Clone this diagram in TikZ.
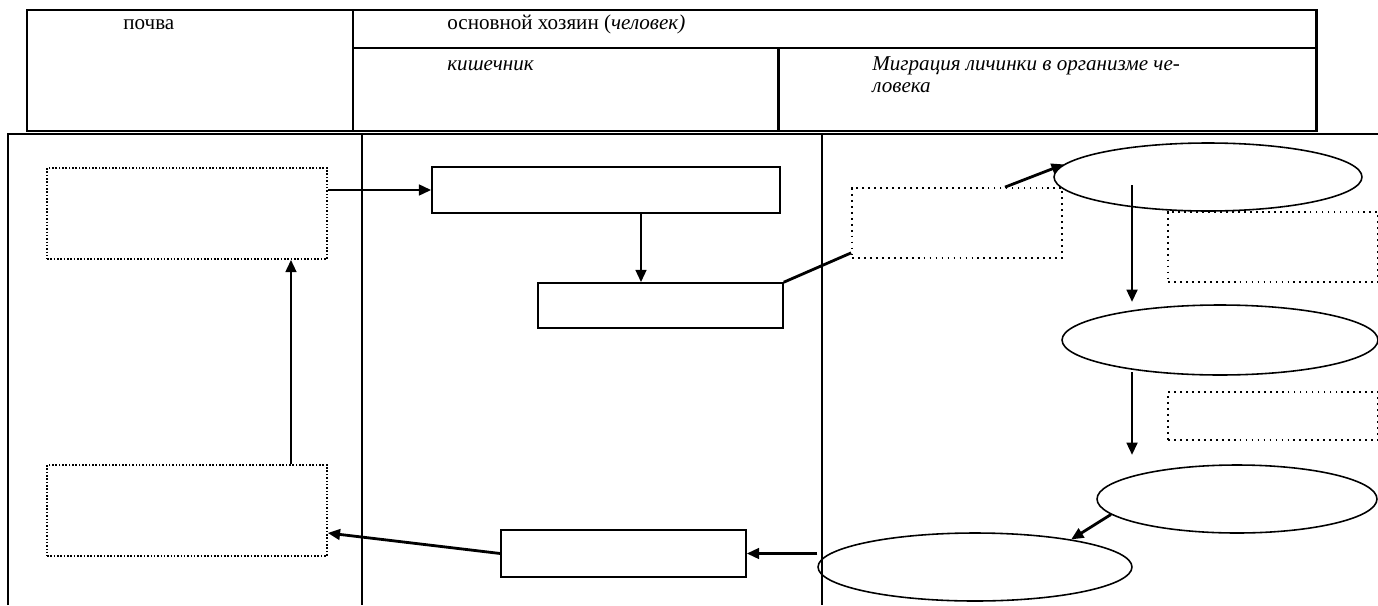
\documentclass[tikz,border=0pt]{standalone}
\usepackage{fontspec}
\setmainfont{Liberation Serif}
\usepackage{tikz}
\usetikzlibrary{arrows.meta, positioning, shapes.geometric, calc}

\begin{document}
\begin{tikzpicture}[
  x=0.02cm, y=-0.02cm,
  >={Triangle[length=7pt, width=6pt]},
  hdr/.style={line width=1.7pt},
  frame/.style={line width=0.6pt},
  lbl/.style={inner sep=0pt, anchor=base west, font=\fontsize{12}{12.5}\selectfont},
  solidbox/.style={draw, line width=0.9pt, inner sep=0pt},
  soilbox/.style={draw, line width=0.9pt, densely dotted, inner sep=0pt},
  dotbox/.style={draw, line width=1pt, dash pattern=on 1pt off 2.4pt, inner sep=0pt},
  stage/.style={draw, ellipse, line width=0.9pt, inner sep=0pt},
  arr/.style={->, line width=1.6pt},
  link/.style={line width=1.6pt},
]
\useasboundingbox (0,0) rectangle (1378,605);

% Header table
\draw[hdr] (27,10) rectangle (1316,131);
\draw[hdr] (353,10) -- (353,131);
\draw[hdr] (353,48) -- (1316,48);
\draw[hdr] (778,48) -- (778,131);
\node[lbl] (soil) at (123,30) {почва};
\node[lbl] (host) at (447,30) {основной хозяин (\textit{человек)}};
\node[lbl] (gut)  at (447,70) {\textit{кишечник}};
\node[lbl] (mig1) at (872,70) {\textit{Миграция личинки в организме че-}};
\node[lbl] (mig2) at (872,92) {\textit{ловека}};

% Lower frame
\draw[frame] (8,605) -- (8,134) -- (1378,134);
\draw[frame] (362,134) -- (362,605);
\draw[frame] (822,134) -- (822,605);

% Soil column
\node[soilbox, minimum width=5.6cm, minimum height=1.82cm] (egg)  at (187,213.5) {};
\node[soilbox, minimum width=5.6cm, minimum height=1.82cm] (egg0) at (187,510.5) {};

% Intestine column
\node[solidbox, minimum width=6.96cm, minimum height=0.92cm] (larva) at (606,190) {};
\node[solidbox, minimum width=4.9cm, minimum height=0.9cm] (wall)   at (660.5,305.5) {};
\node[solidbox, minimum width=4.9cm, minimum height=0.94cm] (adult) at (623.5,553.5) {};

% Migration column
\node[dotbox, minimum width=4.2cm, minimum height=1.4cm]  (blood) at (957,223) {};
\node[dotbox, minimum width=4.2cm, minimum height=1.4cm]  (note1) at (1273,247) {};
\node[dotbox, minimum width=4.2cm, minimum height=0.96cm] (note2) at (1273,416) {};
\node[stage, minimum width=6.16cm, minimum height=1.36cm] (liver) at (1208,177) {};
\node[stage, minimum width=6.32cm, minimum height=1.4cm]  (lung)  at (1220,340) {};
\node[stage, minimum width=5.6cm, minimum height=1.36cm]  (throat) at (1237,499) {};
\node[stage, minimum width=6.28cm, minimum height=1.36cm] (swallow) at (975,567) {};

% Arrows
\draw[arr] (egg.east |- larva) -- (larva.west);
\draw[arr] ([xshift=0.7cm]larva.south) -- ([xshift=0.7cm]larva.south |- wall.north);
\draw[link] (wall.north east) -- ([yshift=0.12cm]blood.south west);
\draw[arr] ([xshift=0.96cm]blood.north) -- (liver.175);
\draw[arr] ([xshift=-1.52cm, yshift=-0.16cm]liver.center) coordinate (d1)
  -- (d1 |- 0,302);
\draw[arr] ([xshift=-1.76cm, yshift=-0.64cm]lung.center) coordinate (d2)
  -- (d2 |- 0,455);
\draw[arr] (throat.187) -- (swallow.16);
\draw[arr] (swallow.west |- adult.east) -- (adult.east);
\draw[arr] (adult.west) -- ([yshift=-0.45cm]egg0.east);
\draw[arr] ([xshift=2.08cm]egg0.north) -- ([xshift=2.08cm]egg.south);

\end{tikzpicture}
\end{document}
